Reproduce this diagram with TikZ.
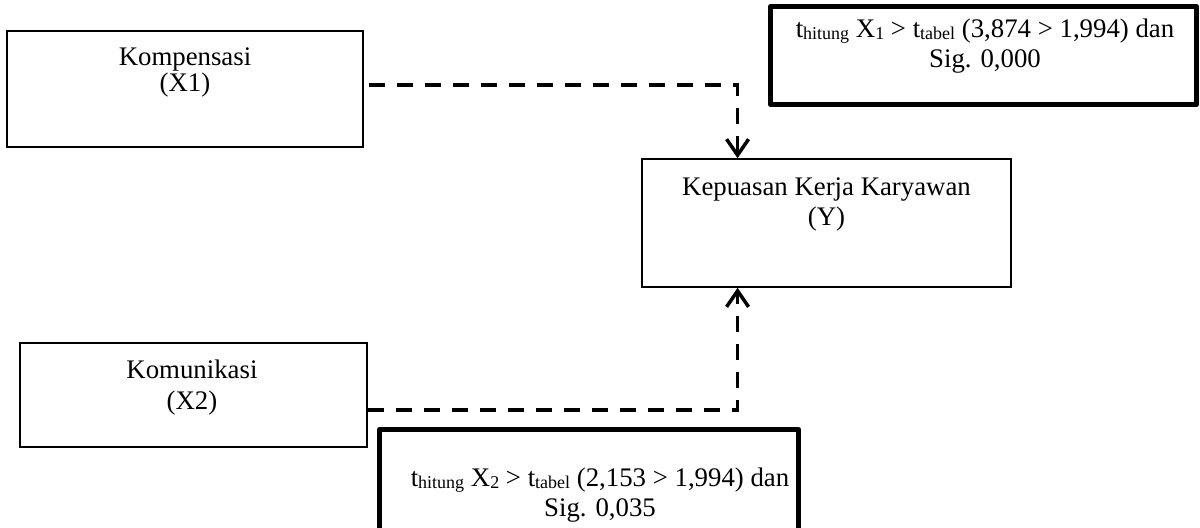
\documentclass[tikz,border=0pt]{standalone}
\usepackage{fontspec}
\setmainfont{Liberation Serif}
\usetikzlibrary{arrows.meta,calc}
\newcommand{\subtx}[1]{\raisebox{-1pt}{\fontsize{9}{9}\selectfont #1}}
\begin{document}
\begin{tikzpicture}[x=0.5pt, y=-0.5pt,
    kotak/.style={draw, line width=0.75pt, inner sep=0pt},
    catatan/.style={draw, line width=2.5pt, line join=round, inner sep=0pt},
    teks/.style={align=center, anchor=base, inner sep=0pt, font=\fontsize{13.4}{15}\selectfont},
    panah/.style={line width=1.75pt, dash pattern=on 8pt off 6pt, -{Straight Barb[length=8pt, width=11pt]}}]
    \useasboundingbox (0, 0) rectangle (1200, 528);
    \node[kotak, minimum width=178pt, minimum height=58pt] (x1) at (185, 89) {};
    \node[kotak, minimum width=173.5pt, minimum height=52pt] (x2) at (193.5, 395) {};
    \node[kotak, minimum width=184.5pt, minimum height=64pt] (y) at (826.5, 223) {};
    \node[catatan, minimum width=213pt, minimum height=49pt] (n1) at (983.5, 55.5) {};
    \node[catatan, minimum width=209.5pt, minimum height=51.75pt] (n2) at (589, 481.25) {};
    \node[teks, font=\fontsize{13.4}{12}\selectfont] (x1t) at (185, 92) {Kompensasi\\(X1)};
    \node[teks, font=\fontsize{13.4}{15.5}\selectfont] (x2t) at (192, 410) {Komunikasi\\(X2)};
    \node[teks] (yt) at (826.5, 226) {Kepuasan Kerja Karyawan\\(Y)};
    \node[teks] (n1t) at (985, 68) {t\subtx{hitung} X\subtx{1} > t\subtx{tabel} (3,874 > 1,994) dan\\Sig. 0,000};
    \node[teks] (n2t) at (600, 517) {t\subtx{hitung} X\subtx{2} > t\subtx{tabel} (2,153 > 1,994) dan\\Sig. 0,035};
    \draw[panah] ([xshift=2.5pt, yshift=2pt]x1.east) -| ($(y.north west)!0.26!(y.north east)$);
    \draw[panah] ([yshift=-7.5pt]x2.east) -| ($(y.south west)!0.26!(y.south east)$);
\end{tikzpicture}
\end{document}
